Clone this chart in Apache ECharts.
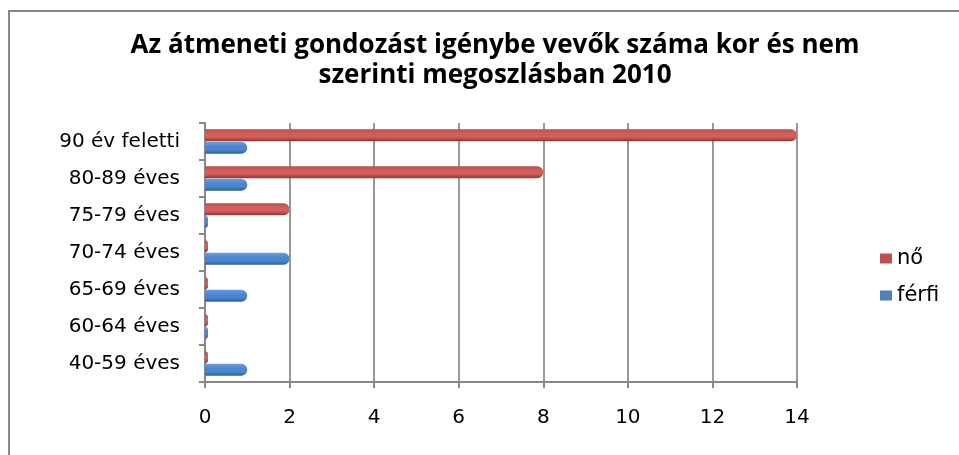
<!DOCTYPE html>
<html>
<head>
<meta charset="utf-8">
<script src="https://cdn.jsdelivr.net/npm/echarts@6/dist/echarts.min.js"></script>
<style>
  html, body { margin: 0; padding: 0; background: #fff; }
  #vis { width: 959px; height: 455px; }
</style>
</head>
<body>
<div id="vis"></div>
<script>
const categories = ['40-59 éves', '60-64 éves', '65-69 éves', '70-74 éves', '75-79 éves', '80-89 éves', '90 év feletti'];
const ferfi = [1, 0, 1, 2, 0, 1, 1];
const no = [0, 0, 0, 0, 2, 8, 14];
const legendNames = ['nő', 'férfi'];
const legendColors = ['#C0504D', '#4F81BD'];

const chart = echarts.init(document.getElementById('vis'), null, {renderer: 'canvas'});

// fake cylinder shading, light band a bit above the middle
function cylinder(top, mid, bottom) {
  return new echarts.graphic.LinearGradient(0, 0, 0, 1, [
    {offset: 0, color: top},
    {offset: 0.4, color: mid},
    {offset: 0.65, color: mid},
    {offset: 1, color: bottom}
  ]);
}

const options = {
  animation: false,
  backgroundColor: '#fff',
  title: {
    text: 'Az átmeneti gondozást igénybe vevők száma kor és nem\nszerinti megoszlásban 2010',
    left: 490,
    textAlign: 'center',
    top: 26,
    textStyle: {
      fontFamily: 'Open Sans',
      fontWeight: 'bold',
      fontSize: 26,
      lineHeight: 30,
      color: '#000'
    }
  },
  legend: {
    data: legendNames.map((name, i) => ({name, itemStyle: {color: legendColors[i]}})),
    orient: 'vertical',
    left: 875,
    top: 243,
    itemWidth: 12,
    itemHeight: 10,
    itemGap: 16,
    icon: 'rect',
    textStyle: {fontFamily: 'DejaVu Sans', fontSize: 21, color: '#000'}
  },
  grid: {left: 205, right: 162, top: 123, bottom: 73},
  xAxis: {
    type: 'value',
    min: 0,
    max: 14,
    interval: 2,
    axisLine: {show: true, lineStyle: {color: '#888', width: 2}},
    axisTick: {show: true, length: 6, lineStyle: {color: '#888', width: 2}},
    axisLabel: {margin: 26, fontFamily: 'DejaVu Sans', fontSize: 20, color: '#000'},
    splitLine: {show: true, lineStyle: {color: '#999', width: 2}}
  },
  yAxis: {
    type: 'category',
    data: categories,
    axisLine: {show: true, lineStyle: {color: '#888', width: 2}},
    axisTick: {show: true, length: 6, lineStyle: {color: '#888', width: 2}},
    axisLabel: {margin: 25, fontFamily: 'DejaVu Sans', fontSize: 20, color: '#000'}
  },
  graphic: [{
    type: 'polyline',
    shape: {points: [[9, 455], [9, 11], [959, 11]]},
    style: {stroke: '#888', lineWidth: 2, fill: null}
  }],
  series: [
    {
      name: 'nő',
      type: 'bar',
      data: no,
      barWidth: 12,
      barGap: '5%',
      barMinHeight: 3,
      color: '#C0504D',
      itemStyle: {color: cylinder('#B8504D', '#D45E5B', '#8E3533'), borderRadius: [0, 6, 6, 0]}
    },
    {
      name: 'férfi',
      type: 'bar',
      data: ferfi,
      barWidth: 12,
      barGap: '5%',
      barMinHeight: 3,
      color: '#4F81BD',
      itemStyle: {color: cylinder('#6E9DD6', '#4A86CF', '#2F5E9E'), borderRadius: [0, 6, 6, 0]}
    }
  ]
};

chart.setOption(options);
</script>
</body>
</html>
